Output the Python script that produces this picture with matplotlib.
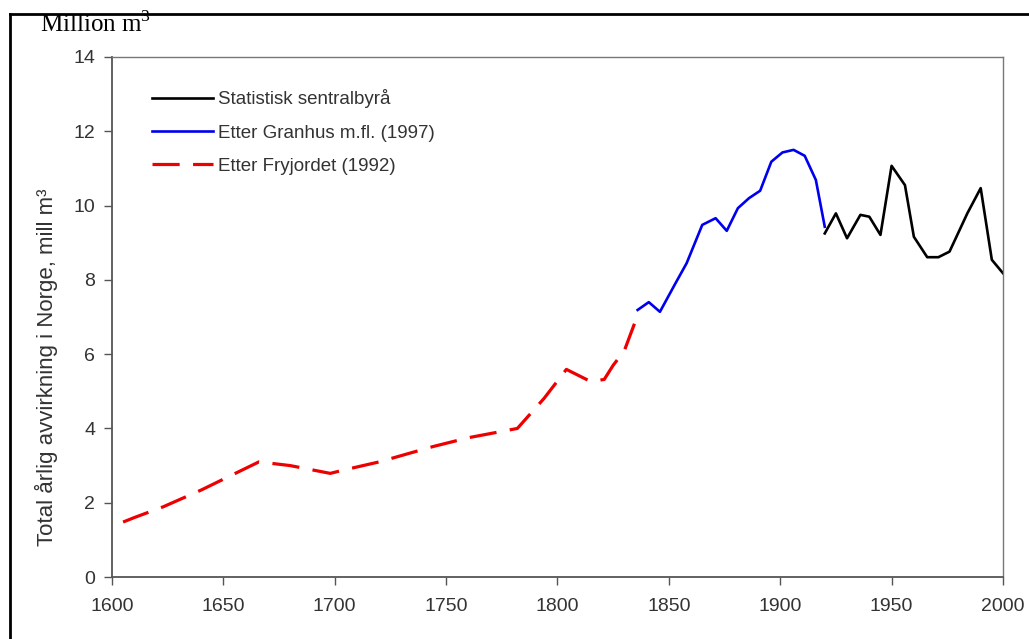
"""Norwegian annual timber harvest, 1600-2000."""

import matplotlib
matplotlib.use("Agg")
import matplotlib.pyplot as plt
from matplotlib.lines import Line2D

# Etter Fryjordet (1992)
fry_years = [1605, 1610, 1623, 1640, 1654, 1666, 1680, 1698, 1704, 1720, 1744,
             1760, 1782, 1794, 1804, 1815, 1821, 1825, 1830, 1836]
fry_vals = [1.48, 1.6, 1.89, 2.34, 2.75, 3.10, 3.0, 2.79, 2.88, 3.1, 3.51,
            3.75, 4.0, 4.81, 5.59, 5.26, 5.32, 5.7, 6.09, 7.05]

# Etter Granhus m.fl. (1997)
gra_years = [1836, 1841, 1846, 1853, 1858, 1865, 1871, 1876, 1881, 1886, 1891,
             1896, 1901, 1906, 1911, 1916, 1920]
gra_vals = [7.19, 7.40, 7.14, 7.91, 8.45, 9.48, 9.66, 9.32, 9.93, 10.20, 10.40,
            11.18, 11.43, 11.50, 11.34, 10.69, 9.43]

# Statistisk sentralbyrå
ssb_years = [1920, 1925, 1930, 1936, 1940, 1945, 1950, 1956, 1960, 1966, 1971,
             1976, 1984, 1990, 1995, 2000]
ssb_vals = [9.25, 9.79, 9.12, 9.75, 9.70, 9.21, 11.07, 10.55, 9.16, 8.61, 8.61,
            8.76, 9.79, 10.47, 8.54, 8.18]

x_ticks = list(range(1600, 2001, 50))
y_ticks = list(range(0, 15, 2))

TEXT = "#333333"
SPINE = "#555555"

plt.rcParams["font.family"] = ["Liberation Sans", "DejaVu Sans"]
plt.rcParams["mathtext.fontset"] = "custom"
plt.rcParams["mathtext.rm"] = "Liberation Serif"

fig = plt.figure(figsize=(10.29, 6.39), dpi=100)
ax = fig.add_axes([0.1088, 0.0970, 0.8659, 0.8138])

ax.plot(ssb_years, ssb_vals, color="black", lw=1.9, label="Statistisk sentralbyrå")
ax.plot(gra_years, gra_vals, color="#0000EE", lw=1.9, label="Etter Granhus m.fl. (1997)")
ax.plot(fry_years, fry_vals, color="#EE0000", lw=2.3, dashes=(8.5, 4.2),
        label="Etter Fryjordet (1992)")

ax.set_xlim(1600, 2000)
ax.set_ylim(0, 14)
ax.set_xticks(x_ticks)
ax.set_yticks(y_ticks)
ax.tick_params(direction="out", length=6, width=1, colors=SPINE,
               labelcolor=TEXT, labelsize=14)
ax.tick_params(axis="x", pad=9)
ax.tick_params(axis="y", pad=6)
for side in ["left", "bottom"]:
    ax.spines[side].set_color(SPINE)
    ax.spines[side].set_linewidth(1.3)
for side in ["top", "right"]:
    ax.spines[side].set_color("#777777")
    ax.spines[side].set_linewidth(1.0)

ax.set_ylabel("Total årlig avvirkning i Norge, mill m³", fontsize=16, color=TEXT)
ax.yaxis.set_label_coords(-0.06, 0.404)

leg = ax.legend(loc="upper left", bbox_to_anchor=(0.036, 0.952), frameon=False,
                fontsize=13.5, handlelength=3.3, handletextpad=0.25,
                labelspacing=0.85, borderaxespad=0)
for text in leg.get_texts():
    text.set_color(TEXT)

fig.text(0.039, 0.962, r"Million m$^{3}$", fontsize=18, family="Liberation Serif",
         color="black", ha="left", va="center")

# outer frame
fig.add_artist(Line2D([0.0097, 1.0], [0.978, 0.978], color="black", lw=2,
                      transform=fig.transFigure))
fig.add_artist(Line2D([0.0097, 0.0097], [0.0, 0.978], color="black", lw=2,
                      transform=fig.transFigure))

fig.savefig("out.png", dpi=100, facecolor="white")
